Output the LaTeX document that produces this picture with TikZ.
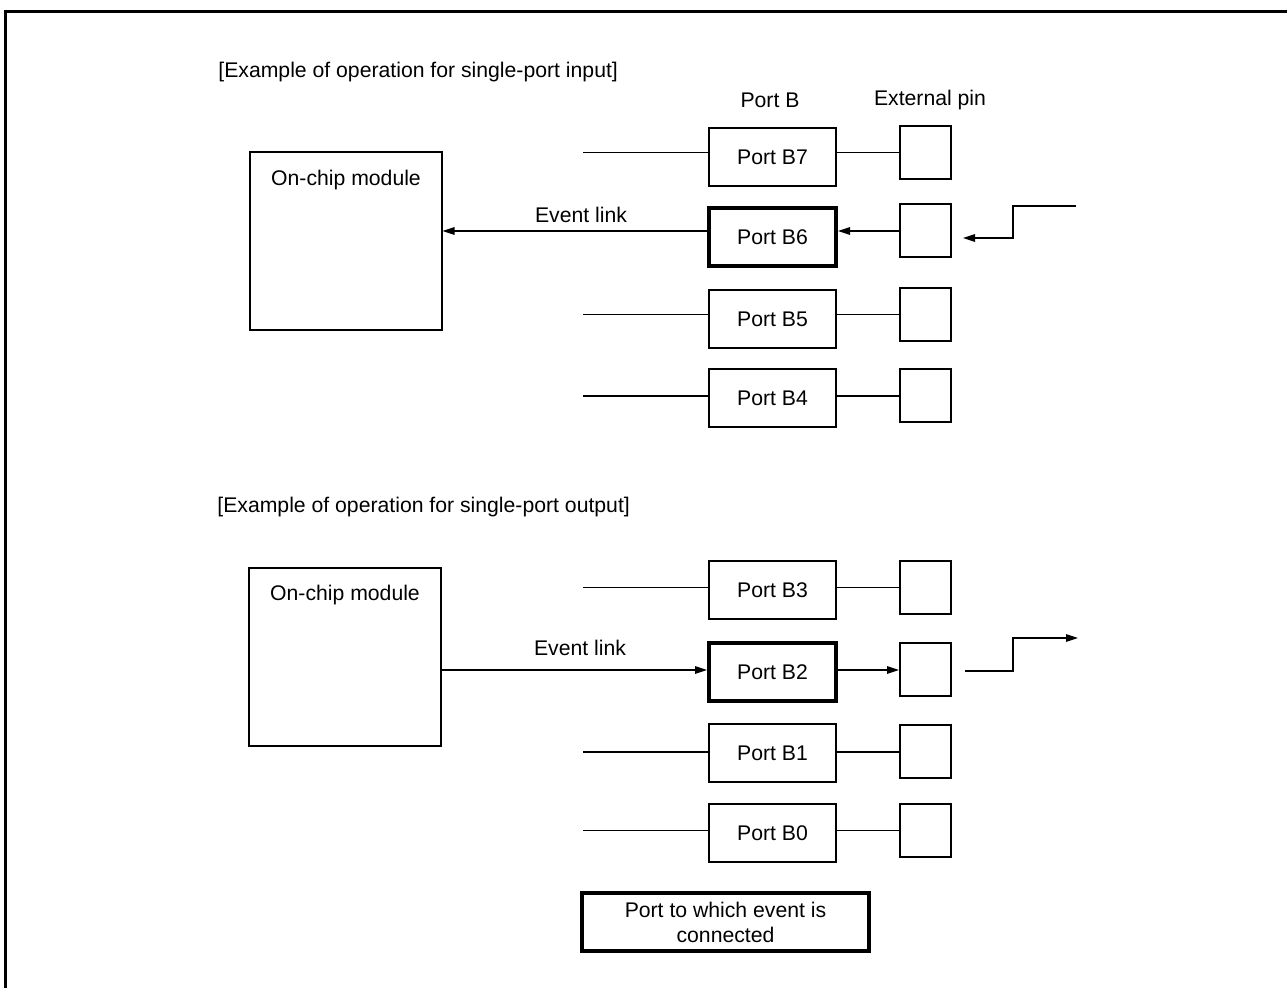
\documentclass[tikz,border=0pt]{standalone}
\usepackage{fontspec}
\setmainfont{Liberation Sans}
\usetikzlibrary{arrows.meta}
\begin{document}
\begin{tikzpicture}[x=0.5pt,y=-0.5pt,
  every node/.style={font=\fontsize{10.6}{12.5}\selectfont, inner sep=0pt},
  modbox/.style={draw, line width=1pt, minimum width=96pt, minimum height=89pt},
  portbox/.style={draw, line width=1pt, minimum width=63.5pt, minimum height=29pt},
  evportbox/.style={portbox, line width=2pt},
  pinbox/.style={draw, line width=1pt, minimum width=25.5pt, minimum height=26.5pt},
  legbox/.style={draw, line width=2pt, minimum width=143.5pt, minimum height=29pt, align=center},
  wire/.style={line width=0.6pt},
  arr/.style={wire, -{Triangle[length=6pt,width=3.8pt]}},
  frame/.style={line width=1.5pt},
  txt/.style={}
]
\useasboundingbox (0,0) rectangle (1287,988);
\draw[frame] (1287,11.5) -- (5.5,11.5) -- (5.5,988);

% headers
\node[txt, anchor=west] (h1) at (218,72) {[Example of operation for single-port input]};
\node[txt, anchor=west] (h2) at (217,507) {[Example of operation for single-port output]};
\node[txt] (lpb) at (770,100) {Port B};
\node[txt] (lpin) at (930,100) {External pin};

% modules
\node[modbox] (m1) at (345.5,241.5) {};
\node[txt] (m1t) at (346,180) {On-chip module};
\node[modbox] (m2) at (344.5,657) {};
\node[txt] (m2t) at (345,595) {On-chip module};

% ports
\node[portbox] (b7) at (772.5,157) {Port B7};
\node[evportbox] (b6) at (772.5,237.5) {Port B6};
\node[portbox] (b5) at (772.5,319) {Port B5};
\node[portbox] (b4) at (772.5,398) {Port B4};
\node[portbox] (b3) at (772.5,590) {Port B3};
\node[evportbox] (b2) at (772.5,672) {Port B2};
\node[portbox] (b1) at (772.5,753) {Port B1};
\node[portbox] (b0) at (772.5,833) {Port B0};

% pins
\node[pinbox] (p7) at (925.5,152.5) {};
\node[pinbox] (p6) at (925.5,231) {};
\node[pinbox] (p5) at (925.5,314.5) {};
\node[pinbox] (p4) at (925.5,396) {};
\node[pinbox] (p3) at (925.5,587.5) {};
\node[pinbox] (p2) at (925.5,670) {};
\node[pinbox] (p1) at (925.5,752) {};
\node[pinbox] (p0) at (925.5,830.5) {};

% stubs and port-pin wires
\foreach \n in {7,5,4,3,1,0}{
  \coordinate (s\n) at (583,0 |- p\n.west);
  \draw[wire] (s\n) -- (s\n -| b\n.west);
  \draw[wire] (p\n.west) -- (p\n.west -| b\n.east);
}

% input example
\draw[arr] (p6.west) -- (p6.west -| b6.east);
\draw[arr] (b6.west |- p6.west) -- (m1.east |- p6.west);
\node[txt] (el1) at (581,215) {Event link};
\coordinate (i1) at (1076,206);
\coordinate (i2) at (1013,238);
\coordinate (i3) at (963,238);
\draw[arr] (i1) -- (i1 -| i2) -- (i2) -- (i3);

% output example
\draw[arr] (m2.east |- p2.west) -- (b2.west |- p2.west);
\draw[arr] (p2.west -| b2.east) -- (p2.west);
\node[txt] (el2) at (580,648) {Event link};
\coordinate (o1) at (965,671);
\coordinate (o2) at (1013,638);
\coordinate (o3) at (1078,638);
\draw[arr] (o1) -- (o1 -| o2) -- (o2) -- (o3);

% legend
\node[legbox] (leg) at (725.5,922) {Port to which event is\\connected};
\end{tikzpicture}
\end{document}
